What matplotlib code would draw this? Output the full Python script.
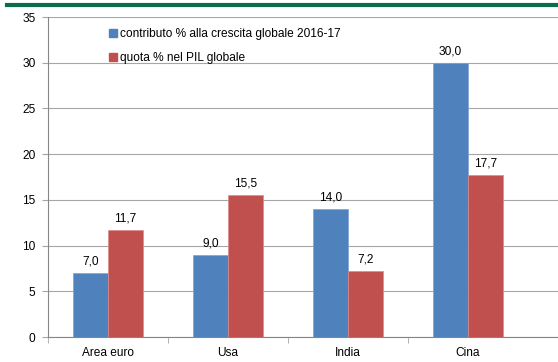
import matplotlib.pyplot as plt
import numpy as np
from matplotlib.lines import Line2D

plt.rcParams['font.family'] = ['Liberation Sans', 'DejaVu Sans']
fs = 8.6

categories = ['Area euro', 'Usa', 'India', 'Cina']
contributo = [7.0, 9.0, 14.0, 30.0]
quota = [11.7, 15.5, 7.2, 17.7]
labels = ['contributo % alla crescita globale 2016-17', 'quota % nel PIL globale']

blue = '#4f81bd'
red = '#c0504d'
grid = '#a6a6a6'

fig = plt.figure(figsize=(5.58, 3.62), dpi=100)
ax = fig.add_axes([48/558, 1 - 337/362, 1 - 48/558, 320/362])

x = np.arange(len(categories))
w = 0.29
b1 = ax.bar(x - w/2, contributo, w, color=blue, edgecolor='#7fa3d3', linewidth=0.5, zorder=3)
b2 = ax.bar(x + w/2, quota, w, color=red, edgecolor='#e08a88', linewidth=0.5, zorder=3)

for bars, vals in ((b1, contributo), (b2, quota)):
    for r, v in zip(bars, vals):
        ax.text(r.get_x() + r.get_width()/2, v + 0.6, ('%.1f' % v).replace('.', ','),
                ha='center', va='bottom', fontsize=fs)

ax.set_ylim(0, 35)
ax.set_yticks(range(0, 36, 5))
ax.set_xlim(-0.5, 3.75)
ax.set_xticks(x)
ax.set_xticklabels(categories, fontsize=fs)
ax.set_xticks([-0.5, 0.5, 1.5, 2.5], minor=True)
ax.tick_params(axis='x', which='major', length=0, pad=7)
ax.tick_params(axis='x', which='minor', length=4, color=grid)
ax.tick_params(axis='y', length=4, color=grid, labelsize=fs, pad=5)
ax.grid(axis='y', color=grid, linewidth=0.8, zorder=0)
for s in ['top', 'right']:
    ax.spines[s].set_visible(False)
for s in ['left', 'bottom']:
    ax.spines[s].set_color('#868686')

handles = [Line2D([], [], marker='s', linestyle='', color=blue, markersize=5.5),
           Line2D([], [], marker='s', linestyle='', color=red, markersize=5.5)]
ax.legend(handles, labels, loc='upper left', bbox_to_anchor=(0.10, 1.0), frameon=False,
          fontsize=fs, handlelength=0.5, handletextpad=0.4, labelspacing=1.0)

fig.add_artist(Line2D([7/558, 1], [1 - 5/362, 1 - 5/362], color='#0a6b4f', linewidth=3))

fig.savefig('out.png', dpi=100)
